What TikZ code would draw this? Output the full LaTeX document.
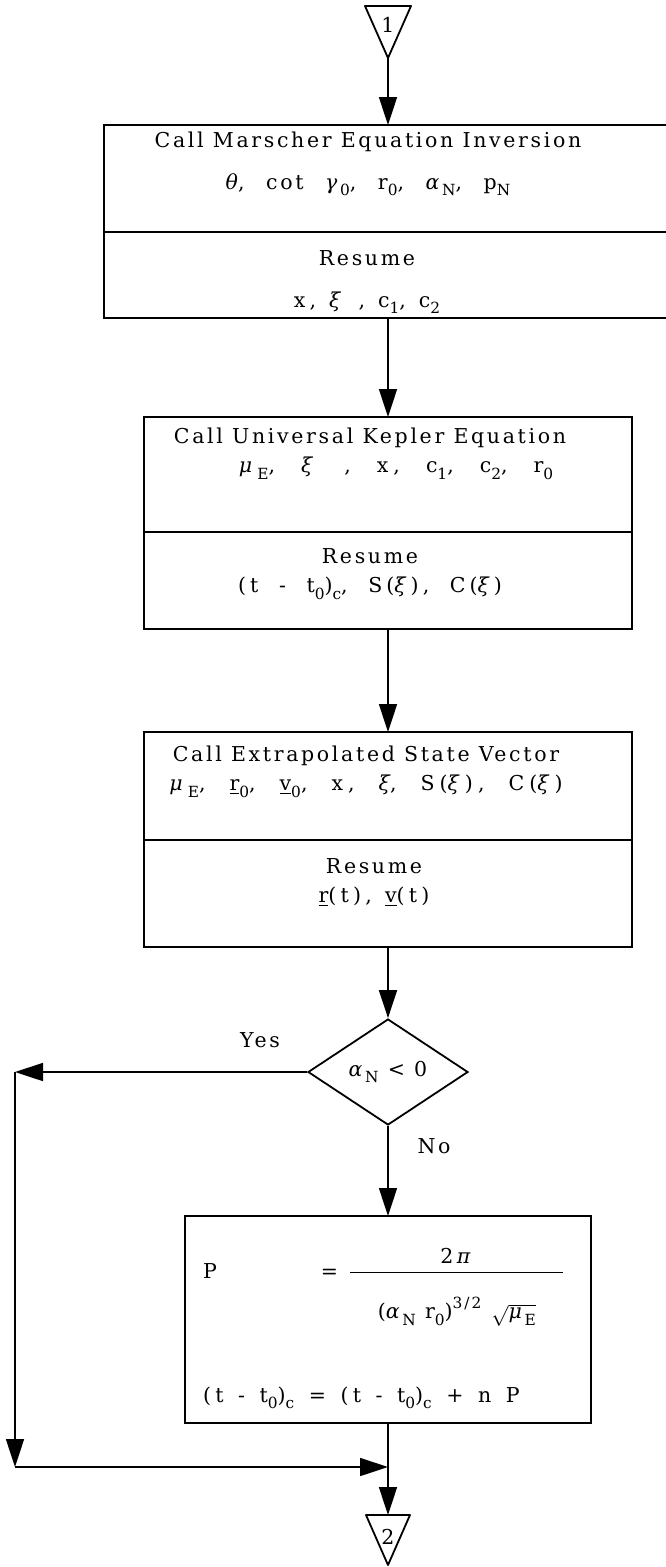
\documentclass[tikz,border=0pt]{standalone}
\usepackage{amsmath}
\usepackage{fontspec}
\newfontfamily\typedfont{DejaVu Serif}[LetterSpace=13]
\newcommand{\lowsub}[1]{\raisebox{-0.32em}{\scalebox{.75}{#1}}}
\newcommand{\highsup}[1]{\raisebox{0.5em}{\scalebox{.75}{#1}}}
\newcommand{\tracking}[3]{{\addfontfeatures{LetterSpace=#1}\spaceskip=#2pt\relax #3}}
\usetikzlibrary{shapes.geometric, arrows.meta, positioning}

\begin{document}
\begin{tikzpicture}[x=1pt, y=-1pt,
    box/.style={rectangle, draw, line width=1.8pt, inner sep=0pt, outer sep=0pt},
    txt/.style={align=center, inner sep=0pt, font=\typedfont\fontsize{20.5}{29}\selectfont},
    wide/.style={txt, font=\typedfont\fontsize{20.5}{42}\selectfont},
    decision/.style={diamond, draw, line width=1.8pt, minimum width=160pt, minimum height=106pt, inner sep=0pt, font=\typedfont\fontsize{20.5}{26}\selectfont},
    offpage/.style={draw, line width=1.8pt, line join=round},
    flow/.style={line width=1.6pt, -{Triangle[length=28pt, width=18pt]}},
    link/.style={line width=1.6pt}
]
\useasboundingbox (0,0) rectangle (666,1567);

% Entry connector
\draw[offpage] (365,6) -- (411,6) -- (388,58) -- cycle;
\coordinate (in1tip) at (388,58);
\node[txt] (in1) at (388,25) {1};

% Marscher equation inversion
\node[box, minimum width=568pt, minimum height=107pt] (call1) at (388,178.5) {};
\node[box, minimum width=568pt, minimum height=86pt, below=0pt of call1] (back1) {};
\node[wide] (call1txt) at (368,164) {Call Marscher Equation Inversion\\
    \tracking{13}{21.6}{\textit{θ}, cot \textit{γ}\lowsub{0}, r\lowsub{0}, \textit{α}\lowsub{N}, p\lowsub{N}}};
\node[wide] (back1txt) at (367,282) {Resume\\ \tracking{21}{13}{x, \textit{ξ} , c\lowsub{1}, c\lowsub{2}}};

% Universal Kepler equation
\node[box, minimum width=488pt, minimum height=115pt] (call2) at (388,474.5) {};
\node[box, minimum width=488pt, minimum height=97pt, below=0pt of call2] (back2) {};
\node[txt] (call2txt) at (370,454) {Call Universal Kepler Equation\\
    \hspace*{52pt}\tracking{25}{26}{\textit{μ}\lowsub{E}, \textit{ξ} , x, c\lowsub{1}, c\lowsub{2}, r\lowsub{0}}};
\node[txt] (back2txt) at (370,574) {Resume\\ \tracking{20}{20.6}{(t - t\lowsub{0})\lowsub{c}, S(\textit{ξ}), C(\textit{ξ})}};

% Extrapolated state vector
\node[box, minimum width=488pt, minimum height=108pt] (call3) at (388,786) {};
\node[box, minimum width=488pt, minimum height=107pt, below=0pt of call3] (back3) {};
\node[txt] (call3txt) at (366,772) {Call Extrapolated State Vector\\
    \tracking{25}{24}{\textit{μ}\lowsub{E}, \underline{r}\lowsub{0}, \underline{v}\lowsub{0}, x, \textit{ξ}, S(\textit{ξ}), C(\textit{ξ})}};
\node[txt] (back3txt) at (374,883) {Resume\\ \tracking{21}{13}{\underline{r}(t), \underline{v}(t)}};

% Test
\node[decision] (test) at (388,1072) {\textit{α}\lowsub{N} < 0};
\node[txt] (yes) at (260,1040) {Yes};
\node[txt] (no) at (434,1146) {No};

% Period correction
\node[box, minimum width=406pt, minimum height=207pt] (period) at (388,1319.5) {};
\node[txt, anchor=base west] (pdef) at (203,1278) {P\hspace{104pt}=\hspace{11pt}$\dfrac{\text{2\,\textit{π}}}{\makebox[213pt]{\rule{0pt}{43pt}(\textit{α}\lowsub{N} r\lowsub{0})\highsup{3/2}\hspace{10pt}$\sqrt{\text{\textit{μ}\lowsub{E}}}$}}$};
\node[txt, anchor=base west] (tcorr) at (203,1402) {\tracking{20}{14.6}{(t - t\lowsub{0})\lowsub{c} = (t - t\lowsub{0})\lowsub{c} + n P}};

% Exit connector
\draw[offpage] (366,1515) -- (410,1515) -- (388,1565) -- cycle;
\coordinate (out2top) at (388,1515);
\node[txt] (out2) at (388,1537) {2};

% Routing points
\coordinate (yesturn) at (15,1072);
\coordinate (yesdown) at (15,1467);
\coordinate (merge) at (388,1467);

% Arrows
\draw[flow] (in1tip) -- (call1.north);
\draw[flow] (back1.south) -- (call2.north);
\draw[flow] (back2.south) -- (call3.north);
\draw[flow] (back3.south) -- (test.north);
\draw[flow] (test.south) -- (period.north);
\draw[flow] (test.west) -- (yesturn);
\draw[flow] (yesturn) -- (yesdown);
\draw[flow] (yesdown) -- (merge);
\draw[link] (period.south) -- (merge);
\draw[flow] (merge) -- (out2top);

\end{tikzpicture}
\end{document}
